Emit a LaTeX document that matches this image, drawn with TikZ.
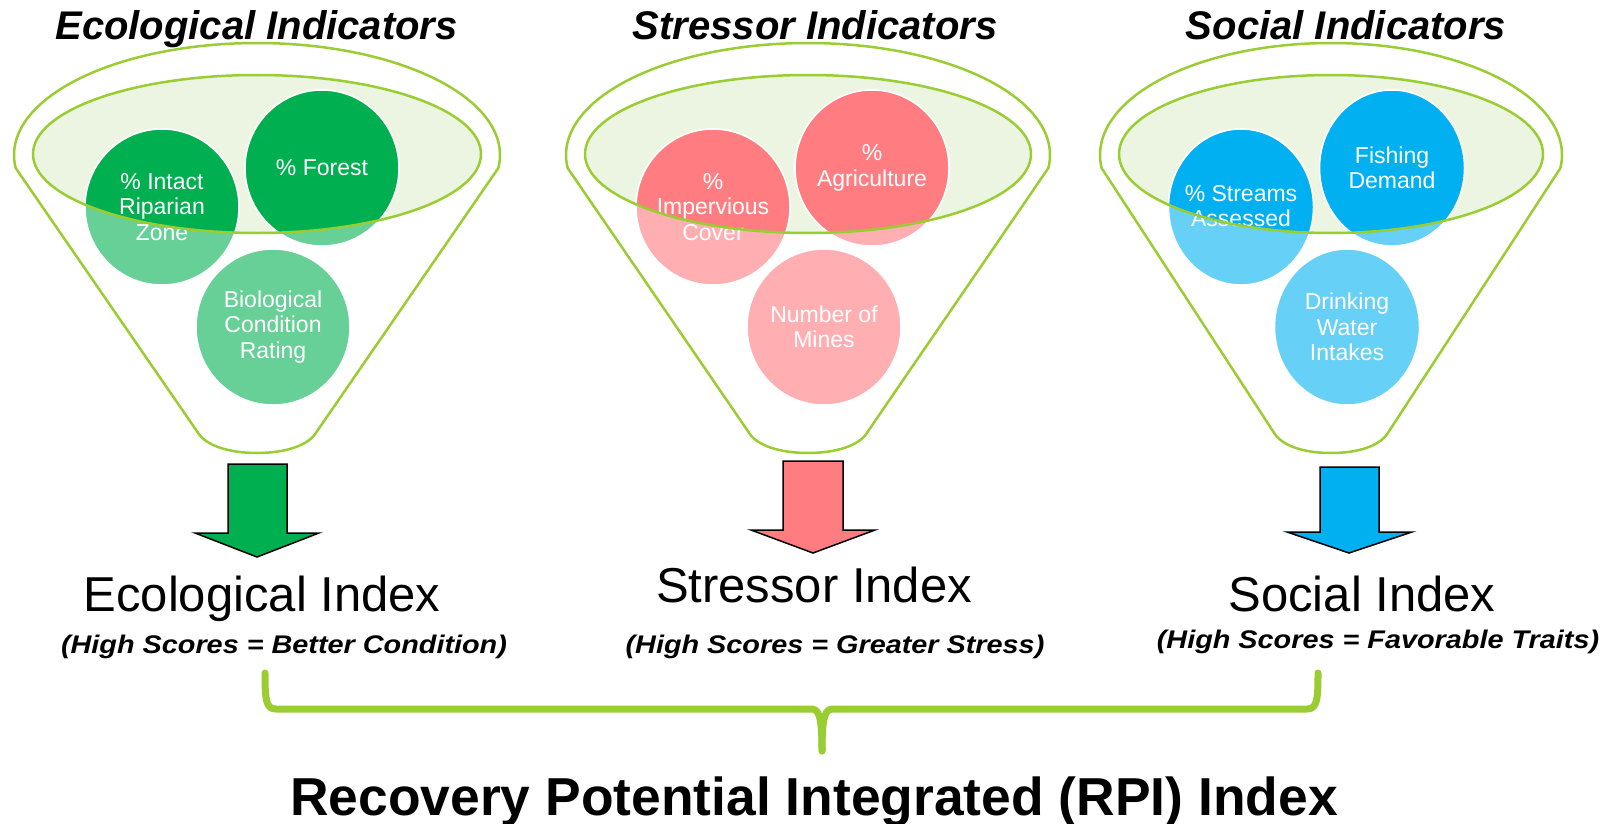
\documentclass[tikz,border=0pt]{standalone}
\usepackage{fontspec}
\setmainfont{Liberation Sans}
\usepackage{graphicx}
\definecolor{rimgreen}{HTML}{9ACD32}
\definecolor{ellfill}{HTML}{EBF5E1}
\definecolor{gdark}{HTML}{00B050}
\definecolor{glight}{HTML}{66D096}
\definecolor{pdark}{HTML}{FF7C80}
\definecolor{plight}{HTML}{FFAFB2}
\definecolor{bdark}{HTML}{00B0F0}
\definecolor{blight}{HTML}{66D0F6}
\tikzset{
  rim/.style={draw=rimgreen, line width=2.5pt},
  ctext/.style={text=white, align=center, inner sep=0pt, font=\fontsize{23}{25.5}\selectfont},
  ttl/.style={anchor=base, inner sep=0pt, font=\bfseries\itshape\fontsize{40}{46}\selectfont},
  idx/.style={anchor=base, inner sep=0pt, font=\fontsize{49}{56}\selectfont},
  subt/.style={anchor=base, inner sep=0pt, font=\bfseries\itshape\fontsize{25.5}{29}\selectfont},
  blockarrow/.style={draw=black, line width=1.5pt, line join=miter},
  brace/.style={draw=rimgreen, line width=7pt, line cap=round, line join=round}
}
\newcommand{\funnelrim}[3]{%
  \draw[rim] plot[domain=173.3:366.7, samples=90] ({#1+#2*cos(\x)},{155+112*sin(\x)})
    -- (#1+#3,432) .. controls (#1+#3-8,446) and (#1+27,453) .. (#1,453)
    .. controls (#1-27,453) and (#1-#3+8,446) .. (#1-#3,432) -- cycle;}
\begin{document}
\begin{tikzpicture}[x=1pt,y=-1pt]
\useasboundingbox (0,0) rectangle (1611,824);

% ---------- funnel 1 : ecological ----------
\funnelrim{257}{243}{59.5}
\fill[ellfill] (257,154) ellipse [x radius=224, y radius=79];
\foreach \cx/\cy in {162/207, 322/168, 273/327}
  \filldraw[fill=glight, draw=white, line width=1.5pt] (\cx,\cy) ellipse [x radius=77, y radius=78];
\begin{scope}
  \clip (257,154) ellipse [x radius=224, y radius=79];
  \foreach \cx/\cy in {162/207, 322/168, 273/327}
    \filldraw[fill=gdark, draw=white, line width=1.5pt] (\cx,\cy) ellipse [x radius=77, y radius=78];
\end{scope}
\node[ctext] (e1) at (162,207) {\% Intact\\Riparian\\Zone};
\node[ctext] (e2) at (322,168) {\% Forest};
\node[ctext] (e3) at (273,327) {Biological\\Condition\\Rating};
\draw[rim] (257,154) ellipse [x radius=224, y radius=79];

% ---------- funnel 2 : stressor ----------
\funnelrim{808}{242}{59.5}
\fill[ellfill] (808,154) ellipse [x radius=223, y radius=79];
\foreach \cx/\cy in {713/207, 872/168, 824/327}
  \filldraw[fill=plight, draw=white, line width=1.5pt] (\cx,\cy) ellipse [x radius=77, y radius=78];
\begin{scope}
  \clip (808,154) ellipse [x radius=223, y radius=79];
  \foreach \cx/\cy in {713/207, 872/168, 824/327}
    \filldraw[fill=pdark, draw=white, line width=1.5pt] (\cx,\cy) ellipse [x radius=77, y radius=78];
\end{scope}
\node[ctext] (s1) at (713,207) {\%\\Impervious\\Cover};
\node[ctext] (s2) at (872,168) {\%\\Agriculture};
\node[ctext] (s3) at (824,327) {Number of\\Mines};
\draw[rim] (808,154) ellipse [x radius=223, y radius=79];

% ---------- funnel 3 : social ----------
\funnelrim{1331}{231}{57.5}
\fill[ellfill] (1331,154) ellipse [x radius=212, y radius=79];
\foreach \cx/\cy in {1241/207, 1392/168, 1347/327}
  \filldraw[fill=blight, draw=white, line width=1.5pt] (\cx,\cy) ellipse [x radius=72.5, y radius=78];
\begin{scope}
  \clip (1331,154) ellipse [x radius=212, y radius=79];
  \foreach \cx/\cy in {1241/207, 1392/168, 1347/327}
    \filldraw[fill=bdark, draw=white, line width=1.5pt] (\cx,\cy) ellipse [x radius=72.5, y radius=78];
\end{scope}
\node[ctext] (c1) at (1241,206) {\% Streams\\Assessed};
\node[ctext] (c2) at (1392,168) {Fishing\\Demand};
\node[ctext] (c3) at (1347,327) {Drinking\\Water\\Intakes};
\draw[rim] (1331,154) ellipse [x radius=212, y radius=79];

% ---------- titles ----------
\node[ttl] (t1) at (256.5,40) {Ecological Indicators};
\node[ttl] (t2) at (815,40) {Stressor Indicators};
\node[ttl] (t3) at (1346,40) {Social Indicators};

% ---------- block arrows ----------
\filldraw[blockarrow, fill=gdark] (228,464) -- (287,464) -- (287,533) -- (319,533) -- (257,557) -- (195,533) -- (228,533) -- cycle;
\filldraw[blockarrow, fill=pdark] (783,461) -- (843,461) -- (843,530) -- (875,530) -- (813,553) -- (751,530) -- (783,530) -- cycle;
\filldraw[blockarrow, fill=bdark] (1320,467) -- (1379,467) -- (1379,532) -- (1412,532) -- (1349,553) -- (1287,532) -- (1320,532) -- cycle;

% ---------- index labels ----------
\node[idx] (i1) at (262,611) {Ecological Index};
\node[idx] (i2) at (814,602) {Stressor Index};
\node[idx] (i3) at (1362,611) {Social Index};
\node[subt] (h1) at (284,653) {\scalebox{1.13}[1]{(High Scores = Better Condition)}};
\node[subt] (h2) at (835,653) {\scalebox{1.13}[1]{(High Scores = Greater Stress)}};
\node[subt] (h3) at (1378,648) {\scalebox{1.13}[1]{(High Scores = Favorable Traits)}};

% ---------- brace ----------
\coordinate (bl) at (265,673);
\coordinate (br) at (1318,673);
\coordinate (bm) at (822,751);
\draw[brace] (bl) .. controls (265,700) and (266,709) .. (276,709) -- (810,709)
  .. controls (818,709) and (822,712) .. (bm);
\draw[brace] (br) .. controls (1318,700) and (1317,709) .. (1307,709) -- (834,709)
  .. controls (826,709) and (822,712) .. (bm);

% ---------- RPI ----------
\node[anchor=base, inner sep=0pt, font=\bfseries\fontsize{53.4}{60}\selectfont] (rpi) at (814,815) {Recovery Potential Integrated (RPI) Index};
\end{tikzpicture}
\end{document}
